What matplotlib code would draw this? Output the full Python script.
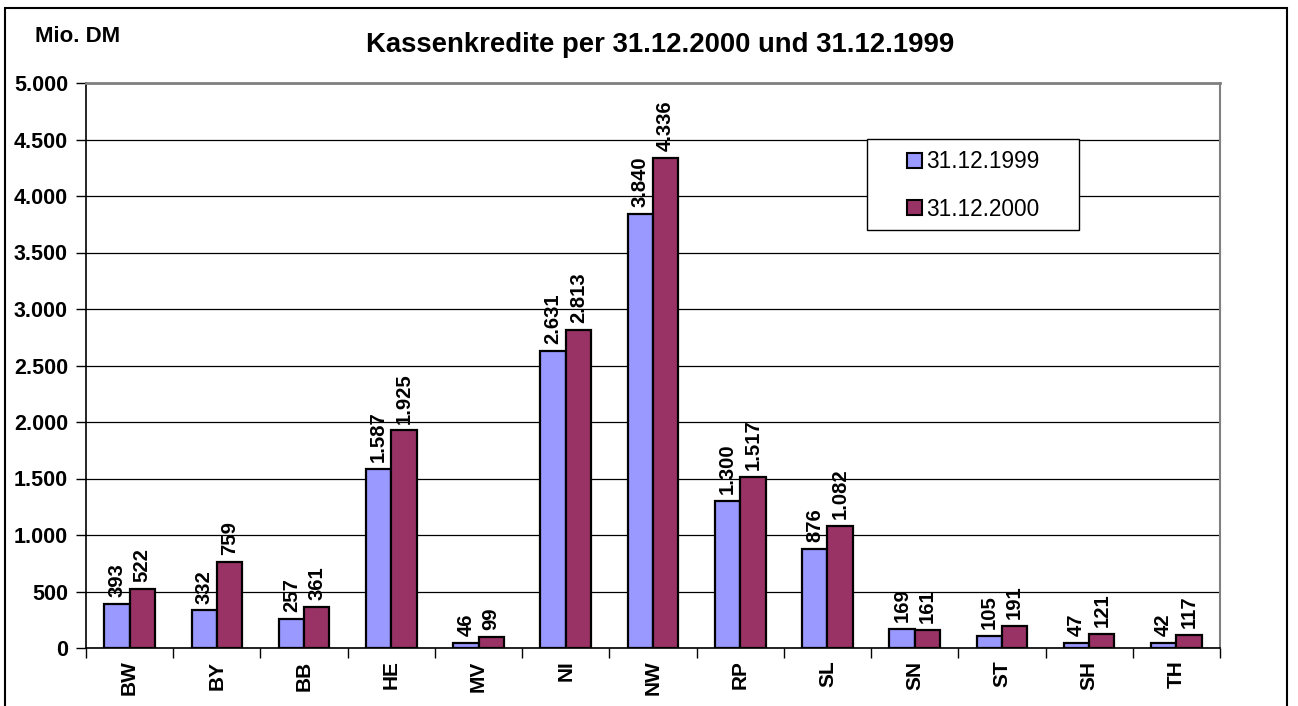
import matplotlib
matplotlib.use("Agg")
import matplotlib.pyplot as plt
import numpy as np
from matplotlib.patches import Rectangle
from matplotlib.ticker import FuncFormatter, MultipleLocator

plt.rcParams['font.family'] = ['Liberation Sans', 'DejaVu Sans']

categories = ["BW", "BY", "BB", "HE", "MV", "NI", "NW", "RP", "SL", "SN", "ST", "SH", "TH"]
values_1999 = [393, 332, 257, 1587, 46, 2631, 3840, 1300, 876, 169, 105, 47, 42]
values_2000 = [522, 759, 361, 1925, 99, 2813, 4336, 1517, 1082, 161, 191, 121, 117]
series_labels = ["31.12.1999", "31.12.2000"]
title = "Kassenkredite per 31.12.2000 und 31.12.1999"
unit_label = "Mio. DM"

W, H = 1298, 706
fig = plt.figure(figsize=(W / 100, H / 100), dpi=100)

# outer frame
fig.patches.append(Rectangle((5 / W, -0.05), (1287 - 5) / W, 1.05 - 8 / H,
                             transform=fig.transFigure, fill=False,
                             edgecolor="black", linewidth=1.5))

left, right, top, bottom = 86, 1220, 83, 648
ax = fig.add_axes([left / W, (H - bottom) / H, (right - left) / W, (bottom - top) / H])

x = np.arange(len(categories))
bw = 0.29
c1, c2 = "#9999FF", "#993366"
b1 = ax.bar(x - bw / 2, values_1999, bw, color=c1, edgecolor="black", linewidth=1.6,
            label=series_labels[0], zorder=3)
b2 = ax.bar(x + bw / 2, values_2000, bw, color=c2, edgecolor="black", linewidth=1.6,
            label=series_labels[1], zorder=3)

def fmt(v):
    return f"{int(v):,}".replace(",", ".")

for bars, vals in ((b1, values_1999), (b2, values_2000)):
    for rect, v in zip(bars, vals):
        ax.annotate(fmt(v), (rect.get_x() + rect.get_width() / 2, v),
                    xytext=(0, 5), textcoords="offset points",
                    rotation=90, ha="center", va="bottom",
                    fontsize=14.6, fontweight="bold", zorder=4)

ax.set_xlim(-0.5, len(categories) - 0.5)
ax.set_ylim(0, 5000)
ax.yaxis.set_major_locator(MultipleLocator(500))
ax.yaxis.set_major_formatter(FuncFormatter(lambda v, p: fmt(v)))
ax.grid(axis="y", color="black", linewidth=0.9, zorder=0)
ax.set_axisbelow(True)

ax.set_xticks(x)
ax.set_xticklabels(categories, rotation=90, fontsize=15, fontweight="bold")
ax.tick_params(axis="x", which="major", length=0, pad=9)
ax.set_xticks(np.arange(len(categories) + 1) - 0.5, minor=True)
ax.tick_params(axis="x", which="minor", length=7, width=1, direction="out")
ax.tick_params(axis="y", length=7, width=1, direction="out", pad=6, labelsize=15.5)
for lab in ax.get_yticklabels():
    lab.set_fontweight("bold")

ax.spines["left"].set_color("black")
ax.spines["bottom"].set_color("black")
ax.spines["left"].set_linewidth(1.2)
ax.spines["bottom"].set_linewidth(1.2)
ax.spines["top"].set_color("#808080")
ax.spines["right"].set_color("#808080")
ax.spines["top"].set_linewidth(2)
ax.spines["right"].set_linewidth(1.5)

# legend frame drawn explicitly, legend entries centred inside
lx0, lx1, ly0, ly1 = 867, 1079, 139, 230
fig.patches.append(Rectangle((lx0 / W, 1 - ly1 / H), (lx1 - lx0) / W, (ly1 - ly0) / H,
                             transform=fig.transFigure, facecolor="white",
                             edgecolor="black", linewidth=1.0, zorder=5))
leg = fig.legend(handles=[b1, b2], labels=series_labels,
                 loc="center", bbox_to_anchor=((lx0 + lx1) / 2 / W, 1 - (ly0 + ly1 + 2) / 2 / H),
                 bbox_transform=fig.transFigure, fontsize=16.3, frameon=False,
                 borderpad=0, labelspacing=1.08, handlelength=0.66, handleheight=0.66,
                 handletextpad=0.2, borderaxespad=0)
leg.set_zorder(6)
for h in leg.legend_handles:
    h.set_linewidth(1.5)

fig.text(35 / W, 1 - 36 / H, unit_label, fontsize=16, fontweight="bold",
         ha="left", va="center")
fig.text(660 / W, 1 - 45 / H, title, fontsize=19.8, fontweight="bold",
         ha="center", va="center")

fig.savefig("out.png", dpi=100)
